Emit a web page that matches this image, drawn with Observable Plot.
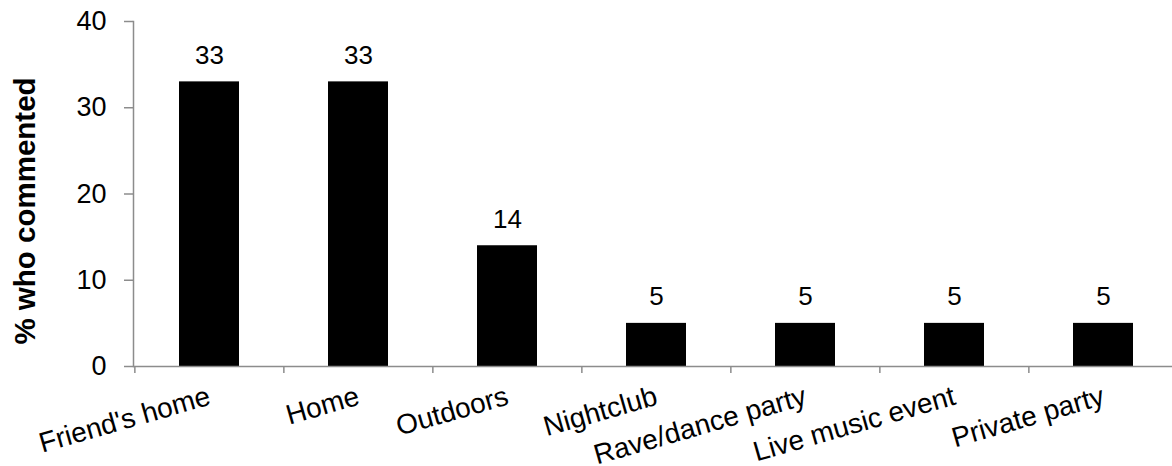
<!DOCTYPE html>
<html>
<head>
<meta charset="utf-8">
<script src="https://cdn.jsdelivr.net/npm/d3@7"></script>
<script src="https://cdn.jsdelivr.net/npm/@observablehq/plot@0.6"></script>
<style>
  html, body { margin: 0; padding: 0; background: #fff; }
  #chart svg { font-family: "Liberation Sans", Arial, sans-serif; }
</style>
</head>
<body>
<div id="chart"></div>
<script>
// Where the comment was made, share of commenters (%)
const places = ["Friend's home", "Home", "Outdoors", "Nightclub", "Rave/dance party", "Live music event", "Private party"];
const percents = [33, 33, 14, 5, 5, 5, 5];
const yTicks = [0, 10, 20, 30, 40];
const yTitle = "% who commented";

const data = places.map((place, i) => ({place, pct: percents[i]}));

const W = 1172, H = 466;
const left = 133, right = 1178;          // band range runs slightly past the right edge
const step = (right - left) / places.length;
const axisGray = "#8c8c8c";

const chart = Plot.plot({
  width: W,
  height: H,
  marginLeft: left,
  marginTop: 21,
  marginBottom: 100,
  marginRight: 0,
  style: {background: "#fff", color: "#000", overflow: "visible"},
  x: {domain: places, range: [left, right], paddingInner: 0.6, paddingOuter: 0.3, axis: null},
  y: {domain: [0, 40], axis: null},
  marks: [
    Plot.barY(data, {x: "place", y: "pct", fill: "#000"}),
    // value labels above bars
    Plot.text(data, {x: "place", y: "pct", text: d => String(d.pct), lineAnchor: "bottom", dy: -18, fontSize: 26, fill: "#000"}),
    // y axis: line, ticks, labels
    Plot.axisY({ticks: yTicks, tickSize: 9, tickPadding: 18, fontSize: 27, stroke: axisGray, strokeWidth: 1.5, fill: "#000", label: null}),
    Plot.frame({anchor: "left", stroke: axisGray, strokeWidth: 1.5}),
    // y axis title, centred a little below the middle of the frame
    Plot.text([yTitle], {frameAnchor: "left", textAnchor: "middle", lineAnchor: "middle", rotate: -90, dx: -108, dy: 17,
                         fontSize: 29.5, fontWeight: "bold", fill: "#000"}),
    // x axis baseline
    Plot.ruleY([0], {stroke: axisGray, strokeWidth: 1.5}),
    // category separators below the baseline
    Plot.axisX({tickSize: 7, tickFormat: () => "", dx: -step / 2, stroke: axisGray, strokeWidth: 1.5, label: null}),
    // rotated category labels
    Plot.axisX({tickSize: 0, tickPadding: 29, tickRotate: -16, fontSize: 28, fill: "#000", label: null})
  ]
});

document.getElementById("chart").appendChild(chart);
</script>
</body>
</html>
